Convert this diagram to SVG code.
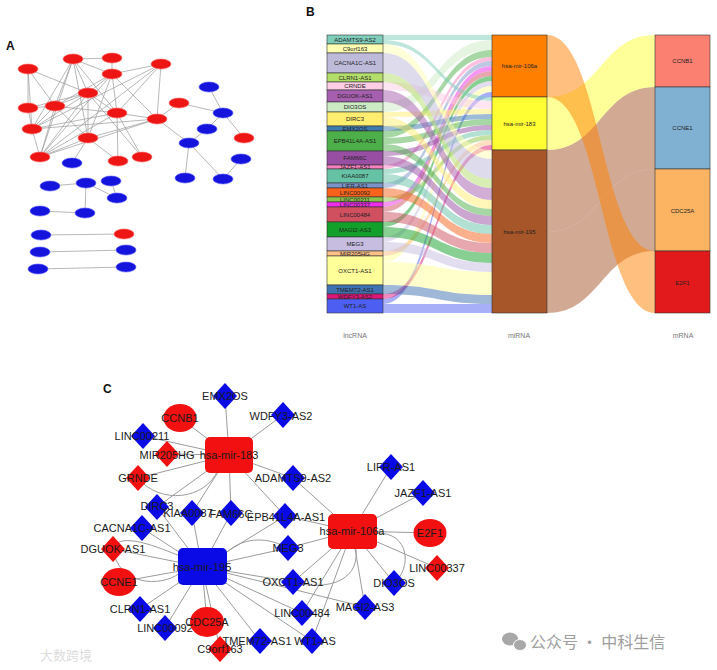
<svg xmlns="http://www.w3.org/2000/svg" width="717" height="670" viewBox="0 0 717 670">
<style>
text{font-family:"Liberation Sans",Arial,sans-serif}
.pl{font-size:12px;font-weight:bold;fill:#111}
.ae{stroke:#9a9a9a;stroke-width:0.7;fill:none}
.ar{fill:#ee1515;stroke:#ff6a6a;stroke-width:0.6}
.ab{fill:#1414dd;stroke:#5a5aff;stroke-width:0.6}
.bx{stroke:#333;stroke-width:0.6}
.bt{font-size:6px;fill:#222;text-anchor:middle}
.f{fill-opacity:0.5}
.ax{font-size:7px;fill:#777;text-anchor:middle}
.ce{stroke:#9c9c9c;stroke-width:1;fill:none}
.cb{fill:#0a0ae6}
.cr{fill:#f21010}
.ct{font-size:11px;fill:#1a1a1a;text-anchor:middle}
.wm{font-family:"Noto Sans CJK SC",sans-serif}
</style>
<defs>
<polygon id="dm" points="0,-13 12,0 0,13 -12,0"/>
</defs>
<rect width="717" height="670" fill="#fff"/>

<!-- ================= Panel A ================= -->
<text class="pl" x="6" y="50">A</text>
<g id="a-edges">
<path class="ae" d="M73,59L112,58M73,59L112,74M73,59L88,93M73,59L55,106M73,59L32,129M73,59L117,113M73,59L88,138M73,59L40,157M112,58L112,74M28,69L88,93M28,69L28,108M28,69L32,129M28,69L55,106M161,64L112,74M161,64L157,119M161,64L40,157M161,64L32,129M161,64L117,113M112,74L88,93M112,74L117,113M112,74L157,119M112,74L88,138M112,74L40,157M112,74L55,106M88,93L28,108M88,93L55,106M88,93L32,129M88,93L88,138M88,93L40,157M88,93L142,157M88,93L117,113M28,108L55,106M28,108L32,129M55,106L117,113M55,106L32,129M55,106L88,138M55,106L40,157M117,113L157,119M117,113L142,157M117,113L32,129M117,113L40,157M117,113L118,161M179,103L157,119M157,119L88,138M157,119L40,157M157,119L189,143M32,129L40,157M32,129L157,119M88,138L118,161M88,138L40,157M88,138L72,163M179,103L223,113M209,87L223,113M223,113L207,129M223,113L244,138M207,129L189,143M189,143L185,178M189,143L223,179M223,179L241,159M50,186L86,183M86,183L117,198M111,181L117,198M86,183L85,213M40,211L85,213M41,235L124,234M40,252L126,250M38,269L126,267"/>
</g>
<g id="a-nodes">
<g id="a-r1"><ellipse class="ar" cx="73" cy="59" rx="10" ry="5"/></g>
<g id="a-r2"><ellipse class="ar" cx="112" cy="58" rx="10" ry="5"/></g>
<g id="a-r3"><ellipse class="ar" cx="28" cy="69" rx="10" ry="5"/></g>
<g id="a-r4"><ellipse class="ar" cx="161" cy="64" rx="10" ry="5"/></g>
<g id="a-r5"><ellipse class="ar" cx="112" cy="74" rx="10" ry="5"/></g>
<g id="a-r6"><ellipse class="ar" cx="88" cy="93" rx="10" ry="5"/></g>
<g id="a-r7"><ellipse class="ar" cx="28" cy="108" rx="10" ry="5"/></g>
<g id="a-r8"><ellipse class="ar" cx="55" cy="106" rx="10" ry="5"/></g>
<g id="a-r9"><ellipse class="ar" cx="117" cy="113" rx="10" ry="5"/></g>
<g id="a-r10"><ellipse class="ar" cx="179" cy="103" rx="10" ry="5"/></g>
<g id="a-r11"><ellipse class="ar" cx="157" cy="119" rx="10" ry="5"/></g>
<g id="a-r12"><ellipse class="ar" cx="32" cy="129" rx="10" ry="5"/></g>
<g id="a-r13"><ellipse class="ar" cx="88" cy="138" rx="10" ry="5"/></g>
<g id="a-r14"><ellipse class="ar" cx="40" cy="157" rx="10" ry="5"/></g>
<g id="a-r15"><ellipse class="ar" cx="118" cy="161" rx="10" ry="5"/></g>
<g id="a-r16"><ellipse class="ar" cx="142" cy="157" rx="10" ry="5"/></g>
<g id="a-r17"><ellipse class="ar" cx="244" cy="138" rx="10" ry="5"/></g>
<g id="a-r18"><ellipse class="ar" cx="124" cy="234" rx="10" ry="5"/></g>
<g id="a-b1"><ellipse class="ab" cx="209" cy="87" rx="10" ry="5"/></g>
<g id="a-b2"><ellipse class="ab" cx="223" cy="113" rx="10" ry="5"/></g>
<g id="a-b3"><ellipse class="ab" cx="207" cy="129" rx="10" ry="5"/></g>
<g id="a-b4"><ellipse class="ab" cx="189" cy="143" rx="10" ry="5"/></g>
<g id="a-b5"><ellipse class="ab" cx="72" cy="163" rx="10" ry="5"/></g>
<g id="a-b6"><ellipse class="ab" cx="241" cy="159" rx="10" ry="5"/></g>
<g id="a-b7"><ellipse class="ab" cx="185" cy="178" rx="10" ry="5"/></g>
<g id="a-b8"><ellipse class="ab" cx="223" cy="179" rx="10" ry="5"/></g>
<g id="a-b9"><ellipse class="ab" cx="50" cy="186" rx="10" ry="5"/></g>
<g id="a-b10"><ellipse class="ab" cx="86" cy="183" rx="10" ry="5"/></g>
<g id="a-b11"><ellipse class="ab" cx="111" cy="181" rx="10" ry="5"/></g>
<g id="a-b12"><ellipse class="ab" cx="117" cy="198" rx="10" ry="5"/></g>
<g id="a-b13"><ellipse class="ab" cx="40" cy="211" rx="10" ry="5"/></g>
<g id="a-b14"><ellipse class="ab" cx="85" cy="213" rx="10" ry="5"/></g>
<g id="a-b15"><ellipse class="ab" cx="41" cy="235" rx="10" ry="5"/></g>
<g id="a-b16"><ellipse class="ab" cx="40" cy="252" rx="10" ry="5"/></g>
<g id="a-b17"><ellipse class="ab" cx="126" cy="250" rx="10" ry="5"/></g>
<g id="a-b18"><ellipse class="ab" cx="38" cy="269" rx="10" ry="5"/></g>
<g id="a-b19"><ellipse class="ab" cx="126" cy="267" rx="10" ry="5"/></g>
</g>

<!-- ================= Panel B ================= -->
<text class="pl" x="306" y="16">B</text>
<g id="b-flows-left">
<path class="f" fill="#7fcdbb" d="M383,35C437.5,35 437.5,35 492,35L492,40C437.5,40 437.5,40 383,40Z"/>
<path class="f" fill="#ccebc5" d="M383,102C437.5,102 437.5,40 492,40L492,50C437.5,50 437.5,112 383,112Z"/>
<path class="f" fill="#4daf4a" d="M383,131C437.5,131 437.5,50 492,50L492,57C437.5,57 437.5,138 383,138Z"/>
<path class="f" fill="#f781bf" d="M383,165C437.5,165 437.5,57 492,57L492,61C437.5,61 437.5,169 383,169Z"/>
<path class="f" fill="#7b93c8" d="M383,183C437.5,183 437.5,61 492,61L492,66C437.5,66 437.5,188 383,188Z"/>
<path class="f" fill="#ee2ee8" d="M383,202C437.5,202 437.5,66 492,66L492,71C437.5,71 437.5,207 383,207Z"/>
<path class="f" fill="#d05060" d="M383,207C437.5,207 437.5,71 492,71L492,76C437.5,76 437.5,212 383,212Z"/>
<path class="f" fill="#12a02a" d="M383,222C437.5,222 437.5,76 492,76L492,81C437.5,81 437.5,227 383,227Z"/>
<path class="f" fill="#c6bde0" d="M383,237C437.5,237 437.5,81 492,81L492,86C437.5,86 437.5,242 383,242Z"/>
<path class="f" fill="#ffff99" d="M383,256C437.5,256 437.5,86 492,86L492,92C437.5,92 437.5,262 383,262Z"/>
<path class="f" fill="#4d5ff2" d="M383,299C437.5,299 437.5,92 492,92L492,97C437.5,97 437.5,304 383,304Z"/>
<path class="f" fill="#7fcdbb" d="M383,40C437.5,40 437.5,97 492,97L492,101C437.5,101 437.5,44 383,44Z"/>
<path class="f" fill="#fccde5" d="M383,82C437.5,82 437.5,101 492,101L492,109C437.5,109 437.5,90 383,90Z"/>
<path class="f" fill="#ffed6f" d="M383,112C437.5,112 437.5,109 492,109L492,114C437.5,114 437.5,117 383,117Z"/>
<path class="f" fill="#3b7bad" d="M383,126C437.5,126 437.5,114 492,114L492,119C437.5,119 437.5,131 383,131Z"/>
<path class="f" fill="#4daf4a" d="M383,138C437.5,138 437.5,119 492,119L492,125C437.5,125 437.5,144 383,144Z"/>
<path class="f" fill="#984ea3" d="M383,151C437.5,151 437.5,125 492,125L492,130C437.5,130 437.5,156 383,156Z"/>
<path class="f" fill="#66c2a5" d="M383,169C437.5,169 437.5,130 492,130L492,135C437.5,135 437.5,174 383,174Z"/>
<path class="f" fill="#8bc34a" d="M383,197C437.5,197 437.5,135 492,135L492,140C437.5,140 437.5,202 383,202Z"/>
<path class="f" fill="#fdc086" d="M383,251C437.5,251 437.5,140 492,140L492,145C437.5,145 437.5,256 383,256Z"/>
<path class="f" fill="#e0157a" d="M383,294C437.5,294 437.5,145 492,145L492,150C437.5,150 437.5,299 383,299Z"/>
<path class="f" fill="#ffffb3" d="M383,44C437.5,44 437.5,150 492,150L492,159C437.5,159 437.5,53 383,53Z"/>
<path class="f" fill="#bebada" d="M383,53C437.5,53 437.5,159 492,159L492,179C437.5,179 437.5,73 383,73Z"/>
<path class="f" fill="#b3de69" d="M383,73C437.5,73 437.5,179 492,179L492,188C437.5,188 437.5,82 383,82Z"/>
<path class="f" fill="#a65eae" d="M383,90C437.5,90 437.5,188 492,188L492,200C437.5,200 437.5,102 383,102Z"/>
<path class="f" fill="#ffed6f" d="M383,117C437.5,117 437.5,200 492,200L492,209C437.5,209 437.5,126 383,126Z"/>
<path class="f" fill="#4daf4a" d="M383,144C437.5,144 437.5,209 492,209L492,216C437.5,216 437.5,151 383,151Z"/>
<path class="f" fill="#984ea3" d="M383,156C437.5,156 437.5,216 492,216L492,225C437.5,225 437.5,165 383,165Z"/>
<path class="f" fill="#66c2a5" d="M383,174C437.5,174 437.5,225 492,225L492,234C437.5,234 437.5,183 383,183Z"/>
<path class="f" fill="#f8621b" d="M383,188C437.5,188 437.5,234 492,234L492,243C437.5,243 437.5,197 383,197Z"/>
<path class="f" fill="#d05060" d="M383,212C437.5,212 437.5,243 492,243L492,253C437.5,253 437.5,222 383,222Z"/>
<path class="f" fill="#12a02a" d="M383,227C437.5,227 437.5,253 492,253L492,263C437.5,263 437.5,237 383,237Z"/>
<path class="f" fill="#c6bde0" d="M383,242C437.5,242 437.5,263 492,263L492,272C437.5,272 437.5,251 383,251Z"/>
<path class="f" fill="#ffff99" d="M383,262C437.5,262 437.5,272 492,272L492,295C437.5,295 437.5,285 383,285Z"/>
<path class="f" fill="#3f72b0" d="M383,285C437.5,285 437.5,295 492,295L492,304C437.5,304 437.5,294 383,294Z"/>
<path class="f" fill="#4d5ff2" d="M383,304C437.5,304 437.5,304 492,304L492,313C437.5,313 437.5,313 383,313Z"/>
</g>
<g id="b-flows-right">
<path class="f" fill="#a65628" d="M547,150C601,150 601,87 655,87L655,169C601,169 601,232 547,232Z"/>
<path class="f" fill="#a65628" d="M547,232C601,232 601,169 655,169L655,251C601,251 601,313 547,313Z"/>
<path class="f" fill="#ffff33" d="M547,97C601,97 601,35 655,35L655,87C601,87 601,150 547,150Z"/>
<path class="f" fill="#ff7f00" d="M547,35C601,35 601,251 655,251L655,313C601,313 601,97 547,97Z"/>
</g>
<g id="b-lnc">
<g id="b-ADAMTS9-AS2"><rect class="bx" x="327" y="35" width="56" height="9" fill="#7fcdbb"/><text class="bt" x="355" y="41.5">ADAMTS9-AS2</text></g>
<g id="b-C9orf163"><rect class="bx" x="327" y="44" width="56" height="9" fill="#ffffb3"/><text class="bt" x="355" y="50.5">C9orf163</text></g>
<g id="b-CACNA1C-AS1"><rect class="bx" x="327" y="53" width="56" height="20" fill="#bebada"/><text class="bt" x="355" y="65">CACNA1C-AS1</text></g>
<g id="b-CLRN1-AS1"><rect class="bx" x="327" y="73" width="56" height="9" fill="#b3de69"/><text class="bt" x="355" y="79.5">CLRN1-AS1</text></g>
<g id="b-CRNDE"><rect class="bx" x="327" y="82" width="56" height="8" fill="#fccde5"/><text class="bt" x="355" y="88">CRNDE</text></g>
<g id="b-DGUOK-AS1"><rect class="bx" x="327" y="90" width="56" height="12" fill="#a65eae"/><text class="bt" x="355" y="98">DGUOK-AS1</text></g>
<g id="b-DIO3OS"><rect class="bx" x="327" y="102" width="56" height="10" fill="#ccebc5"/><text class="bt" x="355" y="109">DIO3OS</text></g>
<g id="b-DIRC3"><rect class="bx" x="327" y="112" width="56" height="14" fill="#ffed6f"/><text class="bt" x="355" y="121">DIRC3</text></g>
<g id="b-EMX2OS"><rect class="bx" x="327" y="126" width="56" height="5" fill="#3b7bad"/><text class="bt" x="355" y="130.5">EMX2OS</text></g>
<g id="b-EPB41L4A-AS1"><rect class="bx" x="327" y="131" width="56" height="20" fill="#4daf4a"/><text class="bt" x="355" y="143">EPB41L4A-AS1</text></g>
<g id="b-FAM66C"><rect class="bx" x="327" y="151" width="56" height="14" fill="#984ea3"/><text class="bt" x="355" y="160">FAM66C</text></g>
<g id="b-JAZF1-AS1"><rect class="bx" x="327" y="165" width="56" height="4" fill="#f781bf"/><text class="bt" x="355" y="169">JAZF1-AS1</text></g>
<g id="b-KIAA0087"><rect class="bx" x="327" y="169" width="56" height="14" fill="#66c2a5"/><text class="bt" x="355" y="178">KIAA0087</text></g>
<g id="b-LIFR-AS1"><rect class="bx" x="327" y="183" width="56" height="5" fill="#7b93c8"/><text class="bt" x="355" y="187.5">LIFR-AS1</text></g>
<g id="b-LINC00092"><rect class="bx" x="327" y="188" width="56" height="9" fill="#f8621b"/><text class="bt" x="355" y="194.5">LINC00092</text></g>
<g id="b-LINC00211"><rect class="bx" x="327" y="197" width="56" height="5" fill="#8bc34a"/><text class="bt" x="355" y="201.5">LINC00211</text></g>
<g id="b-LINC00337"><rect class="bx" x="327" y="202" width="56" height="5" fill="#ee2ee8"/><text class="bt" x="355" y="206.5">LINC00337</text></g>
<g id="b-LINC00484"><rect class="bx" x="327" y="207" width="56" height="15" fill="#d05060"/><text class="bt" x="355" y="216.5">LINC00484</text></g>
<g id="b-MAGI2-AS3"><rect class="bx" x="327" y="222" width="56" height="15" fill="#12a02a"/><text class="bt" x="355" y="231.5">MAGI2-AS3</text></g>
<g id="b-MEG3"><rect class="bx" x="327" y="237" width="56" height="14" fill="#c6bde0"/><text class="bt" x="355" y="246">MEG3</text></g>
<g id="b-MIR205HG"><rect class="bx" x="327" y="251" width="56" height="5" fill="#fdc086"/><text class="bt" x="355" y="255.5">MIR205HG</text></g>
<g id="b-OXCT1-AS1"><rect class="bx" x="327" y="256" width="56" height="29" fill="#ffff99"/><text class="bt" x="355" y="272.5">OXCT1-AS1</text></g>
<g id="b-TMEM72-AS1"><rect class="bx" x="327" y="285" width="56" height="9" fill="#3f72b0"/><text class="bt" x="355" y="291.5">TMEM72-AS1</text></g>
<g id="b-WDFY3-AS2"><rect class="bx" x="327" y="294" width="56" height="5" fill="#e0157a"/><text class="bt" x="355" y="298.5">WDFY3-AS2</text></g>
<g id="b-WT1-AS"><rect class="bx" x="327" y="299" width="56" height="14" fill="#4d5ff2"/><text class="bt" x="355" y="308">WT1-AS</text></g>
</g>
<g id="b-mirna">
<g id="b-mir106a"><rect class="bx" x="492" y="35" width="55" height="62" fill="#ff7f00"/><text class="bt" x="519.5" y="68">hsa-mir-106a</text></g>
<g id="b-mir183"><rect class="bx" x="492" y="97" width="55" height="53" fill="#ffff33"/><text class="bt" x="519.5" y="126">hsa-mir-183</text></g>
<g id="b-mir195"><rect class="bx" x="492" y="150" width="55" height="163" fill="#a65628"/><text class="bt" x="519.5" y="234">hsa-mir-195</text></g>
</g>
<g id="b-mrna">
<g id="b-CCNB1"><rect class="bx" x="655" y="35" width="55" height="52" fill="#fb8072"/><text class="bt" x="682.5" y="63">CCNB1</text></g>
<g id="b-CCNE1"><rect class="bx" x="655" y="87" width="55" height="82" fill="#80b1d3"/><text class="bt" x="682.5" y="130">CCNE1</text></g>
<g id="b-CDC25A"><rect class="bx" x="655" y="169" width="55" height="82" fill="#fdb462"/><text class="bt" x="682.5" y="213">CDC25A</text></g>
<g id="b-E2F1"><rect class="bx" x="655" y="251" width="55" height="62" fill="#e31a1c"/><text class="bt" x="682.5" y="285">E2F1</text></g>
</g>
<text class="ax" x="355" y="338">lncRNA</text>
<text class="ax" x="519" y="338">miRNA</text>
<text class="ax" x="683" y="338">mRNA</text>

<!-- ================= Panel C ================= -->
<text class="pl" x="103" y="393">C</text>
<g id="c-edges">
<path class="ce" d="M229,455L225,396M229,455L283,415M229,455L180,418M229,455L143,436M229,455L167,454M229,455L138,478M229,455L293,478M229,455L157,507M229,455L192,513M229,455L231,513M229,455L285,516
M352,531L293,478M352,531L391,467M352,531L423,493M352,531L430,533M352,531L437,568M352,531L394,583M352,531L365,607M352,531L302,613M352,531L312,641M352,531L293,582M352,531L288,548M352,531L285,516
M202,567L142,528M202,567L113,549M202,567L119,582M202,567L140,609M202,567L165,628M202,567L207,622M202,567L220,649M202,567L260,641M202,567L312,641M202,567L302,613M202,567L365,607M202,567L293,582M202,567L288,548M202,567L285,516M202,567L231,513M202,567L192,513M202,567L157,507"/>
<path class="ce" d="M138,478C160,505 205,500 218,470"/>
<path class="ce" d="M376,533C410,532 412,568 394,583"/>
<path class="ce" d="M356,549C360,585 320,590 293,582"/>
<path class="ce" d="M113,549C118,585 160,588 180,573"/>
<path class="ce" d="M113,549C118,530 160,548 180,556"/>
<path class="ce" d="M226,553C245,535 270,538 288,548"/>
</g>
<g id="c-nodes">
<g id="c-EMX2OS"><use href="#dm" class="cb" x="225" y="396"/><text class="ct" x="225" y="400">EMX2OS</text></g>
<g id="c-WDFY3-AS2"><use href="#dm" class="cb" x="283" y="415"/><text class="ct" x="281" y="420">WDFY3-AS2</text></g>
<g id="c-CCNB1"><ellipse class="cr" cx="180" cy="418" rx="16.5" ry="14"/><text class="ct" x="180" y="422">CCNB1</text></g>
<g id="c-LINC00211"><use href="#dm" class="cb" x="143" y="436"/><text class="ct" x="142" y="440">LINC00211</text></g>
<g id="c-MIR205HG"><use href="#dm" class="cr" x="167" y="454"/><text class="ct" x="167" y="459">MIR205HG</text></g>
<g id="c-GRNDE"><use href="#dm" class="cr" x="138" y="478"/><text class="ct" x="138" y="482">GRNDE</text></g>
<g id="c-ADAMTS9-AS2"><use href="#dm" class="cb" x="293" y="478"/><text class="ct" x="293" y="482">ADAMTS9-AS2</text></g>
<g id="c-DIRC3"><use href="#dm" class="cb" x="157" y="507"/><text class="ct" x="157" y="510">DIRC3</text></g>
<g id="c-KIAA0087"><use href="#dm" class="cb" x="192" y="513"/><text class="ct" x="188" y="517">KIAA0087</text></g>
<g id="c-FAM66C"><use href="#dm" class="cb" x="231" y="513"/><text class="ct" x="231" y="518">FAM66C</text></g>
<g id="c-EPB41L4A-AS1"><use href="#dm" class="cb" x="285" y="516"/><text class="ct" x="286" y="521">EPB41L4A-AS1</text></g>
<g id="c-LIFR-AS1"><use href="#dm" class="cb" x="391" y="467"/><text class="ct" x="391" y="471">LIFR-AS1</text></g>
<g id="c-JAZF1-AS1"><use href="#dm" class="cb" x="423" y="493"/><text class="ct" x="423" y="497">JAZF1-AS1</text></g>
<g id="c-E2F1"><ellipse class="cr" cx="430" cy="533" rx="16.5" ry="14"/><text class="ct" x="430" y="537">E2F1</text></g>
<g id="c-CACNA1C-AS1"><use href="#dm" class="cb" x="142" y="528"/><text class="ct" x="132" y="532">CACNA1C-AS1</text></g>
<g id="c-DGUOK-AS1"><use href="#dm" class="cr" x="113" y="549"/><text class="ct" x="113" y="553">DGUOK-AS1</text></g>
<g id="c-MEG3"><use href="#dm" class="cb" x="288" y="548"/><text class="ct" x="288" y="552">MEG3</text></g>
<g id="c-LINC00337"><use href="#dm" class="cr" x="437" y="568"/><text class="ct" x="437" y="572">LINC00337</text></g>
<g id="c-CCNE1"><ellipse class="cr" cx="119" cy="582" rx="17" ry="14"/><text class="ct" x="119" y="586">CCNE1</text></g>
<g id="c-OXCT1-AS1"><use href="#dm" class="cb" x="293" y="582"/><text class="ct" x="293" y="586">OXCT1-AS1</text></g>
<g id="c-DIO3OS"><use href="#dm" class="cb" x="394" y="583"/><text class="ct" x="394" y="587">DIO3OS</text></g>
<g id="c-MAGI2-AS3"><use href="#dm" class="cb" x="365" y="607"/><text class="ct" x="365" y="611">MAGI2-AS3</text></g>
<g id="c-CLRN1-AS1"><use href="#dm" class="cb" x="140" y="609"/><text class="ct" x="140" y="613">CLRN1-AS1</text></g>
<g id="c-LINC00484"><use href="#dm" class="cb" x="302" y="613"/><text class="ct" x="302" y="617">LINC00484</text></g>
<g id="c-LINC00092"><use href="#dm" class="cb" x="165" y="628"/><text class="ct" x="165" y="632">LINC00092</text></g>
<g id="c-CDC25A"><ellipse class="cr" cx="207" cy="622" rx="17" ry="15"/><text class="ct" x="207" y="626">CDC25A</text></g>
<g id="c-C9orf163"><use href="#dm" class="cr" x="220" y="649"/><text class="ct" x="220" y="653">C9orf163</text></g>
<g id="c-TMEM72-AS1"><use href="#dm" class="cb" x="260" y="641"/><text class="ct" x="257" y="645">TMEM72-AS1</text></g>
<g id="c-WT1-AS"><use href="#dm" class="cb" x="312" y="641"/><text class="ct" x="315" y="645">WT1-AS</text></g>
<g id="c-mir183"><rect class="cr" x="205" y="437" width="48" height="36" rx="5"/><text class="ct" x="229" y="459">hsa-mir-183</text></g>
<g id="c-mir106a"><rect class="cr" x="328" y="514" width="49" height="35" rx="5"/><text class="ct" x="352" y="535">hsa-mir-106a</text></g>
<g id="c-mir195"><rect class="cb" x="178" y="548" width="49" height="37" rx="5"/><text class="ct" x="202" y="571">hsa-mir-195</text></g>
</g>

<!-- watermarks -->
<g id="watermarks">
<text class="wm" x="40" y="660" font-size="13" fill="#dcdcdc">大数跨境</text>
<ellipse cx="510" cy="639" rx="8" ry="6.5" fill="#a8a8a8"/>
<ellipse cx="520" cy="645" rx="6.5" ry="5.5" fill="#a8a8a8" stroke="#fff" stroke-width="1"/>
<text class="wm" x="530" y="648" font-size="16" fill="#9e9e9e">公众号 · 中科生信</text>
</g>
</svg>
